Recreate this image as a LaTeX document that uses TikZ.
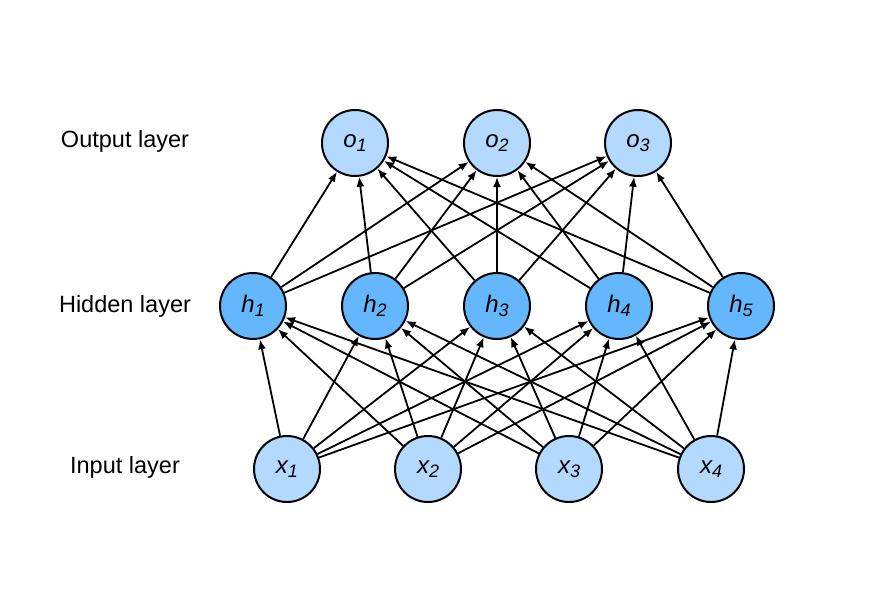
\documentclass[tikz,border=0pt]{standalone}
\usepackage{fontspec}
\setmainfont{Liberation Sans}
\usetikzlibrary{arrows.meta}
\definecolor{lightblue}{RGB}{179,217,255}
\definecolor{hidblue}{RGB}{100,183,252}
\tikzset{
  neuron/.style={circle, draw=black, line width=2pt, minimum size=66pt, inner sep=0pt,
    font=\fontsize{24}{26}\selectfont\itshape},
  inout/.style={neuron, fill=lightblue},
  hid/.style={neuron, fill=hidblue},
  conn/.style={line width=1.8pt, -{Latex[length=10pt,width=8pt]}},
  layerlabel/.style={font=\fontsize{23.5}{27}\selectfont}
}
\newcommand\nsub[2]{#1\raisebox{-4.5pt}{\fontsize{18}{18}\selectfont #2}}
\begin{document}
\begin{tikzpicture}[x=1pt,y=-1pt]
\useasboundingbox (0,0) rectangle (896,610);
\node[layerlabel] (lo) at (125,141) {Output layer};
\node[layerlabel] (lh) at (125,306) {Hidden layer};
\node[layerlabel] (li) at (125,467) {Input layer};
\node[inout] (o1) at (355,143) {\nsub{o}{1}};
\node[inout] (o2) at (497,143) {\nsub{o}{2}};
\node[inout] (o3) at (638,143) {\nsub{o}{3}};
\node[hid] (h1) at (253,306) {\nsub{h}{1}};
\node[hid] (h2) at (375,306) {\nsub{h}{2}};
\node[hid] (h3) at (497,306) {\nsub{h}{3}};
\node[hid] (h4) at (619,306) {\nsub{h}{4}};
\node[hid] (h5) at (741,306) {\nsub{h}{5}};
\node[inout] (x1) at (287,469) {\nsub{x}{1}};
\node[inout] (x2) at (428,469) {\nsub{x}{2}};
\node[inout] (x3) at (569,469) {\nsub{x}{3}};
\node[inout] (x4) at (711,469) {\nsub{x}{4}};
\foreach \i in {1,...,4} \foreach \j in {1,...,5} \draw[conn] (x\i) -- (h\j);
\foreach \i in {1,...,5} \foreach \j in {1,...,3} \draw[conn] (h\i) -- (o\j);
\end{tikzpicture}
\end{document}
